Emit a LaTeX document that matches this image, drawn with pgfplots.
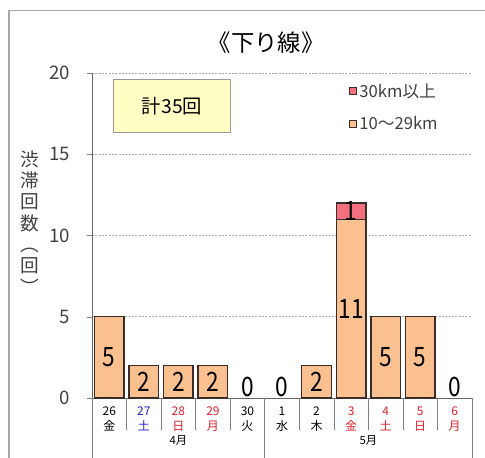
\documentclass[border=0pt]{standalone}
\usepackage{pgfplots}
\pgfplotsset{compat=1.18}
\usepackage{pgfplotstable}
\usepackage{fontspec}
\setmainfont{Noto Sans CJK JP}

\definecolor{jamorange}{HTML}{FAC090}
\definecolor{jampink}{HTML}{F4707F}
\definecolor{baredge}{HTML}{3A2C28}
\definecolor{framegray}{HTML}{A6A6A6}
\definecolor{boxyellow}{HTML}{FFFFC4}
\definecolor{dayred}{HTML}{E0202A}
\definecolor{dayblue}{HTML}{2020D0}

% 10~29km / 30km以上 per day
\pgfplotstableread{
x mid big
0 5 0
1 2 0
2 2 0
3 2 0
4 0 0
5 0 0
6 2 0
7 11 1
8 5 0
9 5 0
10 0 0
}\jamdata

% value labels (placed in the middle of each segment)
\pgfplotstableread{
x y label
0 2.5 5
1 1.0 2
2 1.0 2
3 1.0 2
4 0.7 0
5 0.7 0
6 1.0 2
7 5.5 11
7 11.5 1
8 2.5 5
9 2.5 5
10 0.7 0
}\labeldata

\begin{document}
\begin{tikzpicture}
\path[use as bounding box] (0pt,0pt) rectangle (363.75pt,342.75pt);
\draw[framegray, line width=1pt] (6.75pt,-8pt) -- (6.75pt,334.9pt) -- (370pt,334.9pt);

\begin{axis}[
  at={(69pt,44.25pt)}, anchor=south west,
  scale only axis, width=285pt, height=243.75pt,
  xmin=-0.5, xmax=10.5, ymin=0, ymax=20,
  ybar stacked, bar width=0.86,
  axis lines=left, axis line style={-, draw=gray!80!black},
  ytick={0,5,10,15,20},
  ymajorgrids, grid style={gray!70, dash pattern=on 1.5pt off 1pt},
  ytick style={draw=gray}, tick align=outside, major tick length=4pt,
  yticklabel style={font=\fontsize{14}{14}\selectfont, text=black!75, xshift=-9pt},
  /pgf/number format/assume math mode=true,
  xtick={0,...,10}, xtick style={draw=none},
  xticklabels={
    {26\\金},
    {\textcolor{dayblue}{27}\\\textcolor{dayblue}{土}},
    {\textcolor{dayred}{28}\\\textcolor{dayred}{日}},
    {\textcolor{dayred}{29}\\\textcolor{dayred}{月}},
    {30\\火},
    {1\\水},
    {2\\木},
    {\textcolor{dayred}{3}\\\textcolor{dayred}{金}},
    {\textcolor{dayred}{4}\\\textcolor{dayred}{土}},
    {\textcolor{dayred}{5}\\\textcolor{dayred}{日}},
    {\textcolor{dayred}{6}\\\textcolor{dayred}{月}}},
  xticklabel style={align=center, font=\fontsize{9}{11.5}\selectfont, yshift=1pt},
  clip=false,
  reverse legend,
  legend style={draw=none, fill=none, at={(0.665,0.985)}, anchor=north west,
    font=\fontsize{12.5}{12.5}\selectfont, row sep=9pt, text=black!75},
  legend cell align=left,
]
\addplot[fill=jamorange, draw=baredge, line width=1.1pt,
  legend image code/.code={\draw[fill=jamorange, draw=baredge, line width=0.6pt] (0pt,-2.6pt) rectangle (5.2pt,2.6pt);}]
  table[x=x, y=mid] {\jamdata};
\addlegendentry{10～29km}
\addplot[fill=jampink, draw=baredge, line width=1.1pt,
  legend image code/.code={\draw[fill=jampink, draw=baredge, line width=0.6pt] (0pt,-2.6pt) rectangle (5.2pt,2.6pt);}]
  table[x=x, y=big] {\jamdata};
\addlegendentry{30km以上}

% separators under the categories
\draw[gray] (axis cs:-0.5,0) -- ++(0pt,-46pt);
\draw[gray] (axis cs:4.5,0) -- ++(0pt,-46pt);
\draw[gray] (axis cs:10.5,0) -- ++(0pt,-46pt);
\draw[gray] (axis cs:0.5,0) -- ++(0pt,-24pt);
\draw[gray] (axis cs:1.5,0) -- ++(0pt,-24pt);
\draw[gray] (axis cs:2.5,0) -- ++(0pt,-24pt);
\draw[gray] (axis cs:3.5,0) -- ++(0pt,-24pt);
\draw[gray] (axis cs:5.5,0) -- ++(0pt,-24pt);
\draw[gray] (axis cs:6.5,0) -- ++(0pt,-24pt);
\draw[gray] (axis cs:7.5,0) -- ++(0pt,-24pt);
\draw[gray] (axis cs:8.5,0) -- ++(0pt,-24pt);
\draw[gray] (axis cs:9.5,0) -- ++(0pt,-24pt);
\node[font=\fontsize{8.5}{8.5}\selectfont] at ([yshift=-31.5pt] axis cs:2,0) {4月};
\node[font=\fontsize{8.5}{8.5}\selectfont] at ([yshift=-31.5pt] axis cs:7.5,0) {5月};
\end{axis}

% value labels
\begin{axis}[
  at={(69pt,44.25pt)}, anchor=south west,
  scale only axis, width=285pt, height=243.75pt,
  xmin=-0.5, xmax=10.5, ymin=0, ymax=20,
  hide axis, clip=false,
]
\addplot[only marks, mark=*, mark size=0pt, mark options={draw=none, fill=none},
  nodes near coords, point meta=explicit symbolic,
  every node near coord/.append style={anchor=center, text=black,
    font=\fontsize{20}{20}\selectfont, xscale=0.85}]
  table[x=x, y=y, meta=label] {\labeldata};
\end{axis}

\node[font=\fontsize{17.5}{17.5}\selectfont] at (199.5pt,310.5pt) {《下り線》};
\node[draw=gray!80, fill=boxyellow, line width=0.8pt, minimum width=88pt,
  minimum height=40pt, font=\fontsize{14.5}{14.5}\selectfont] at (129pt,263.25pt) {計35回};
\node[align=center, font=\fontsize{14}{16}\selectfont, text=black!75] at (22.5pt,176pt)
  {渋\\滞\\回\\数\\︵\\回\\︶};
\end{tikzpicture}
\end{document}
